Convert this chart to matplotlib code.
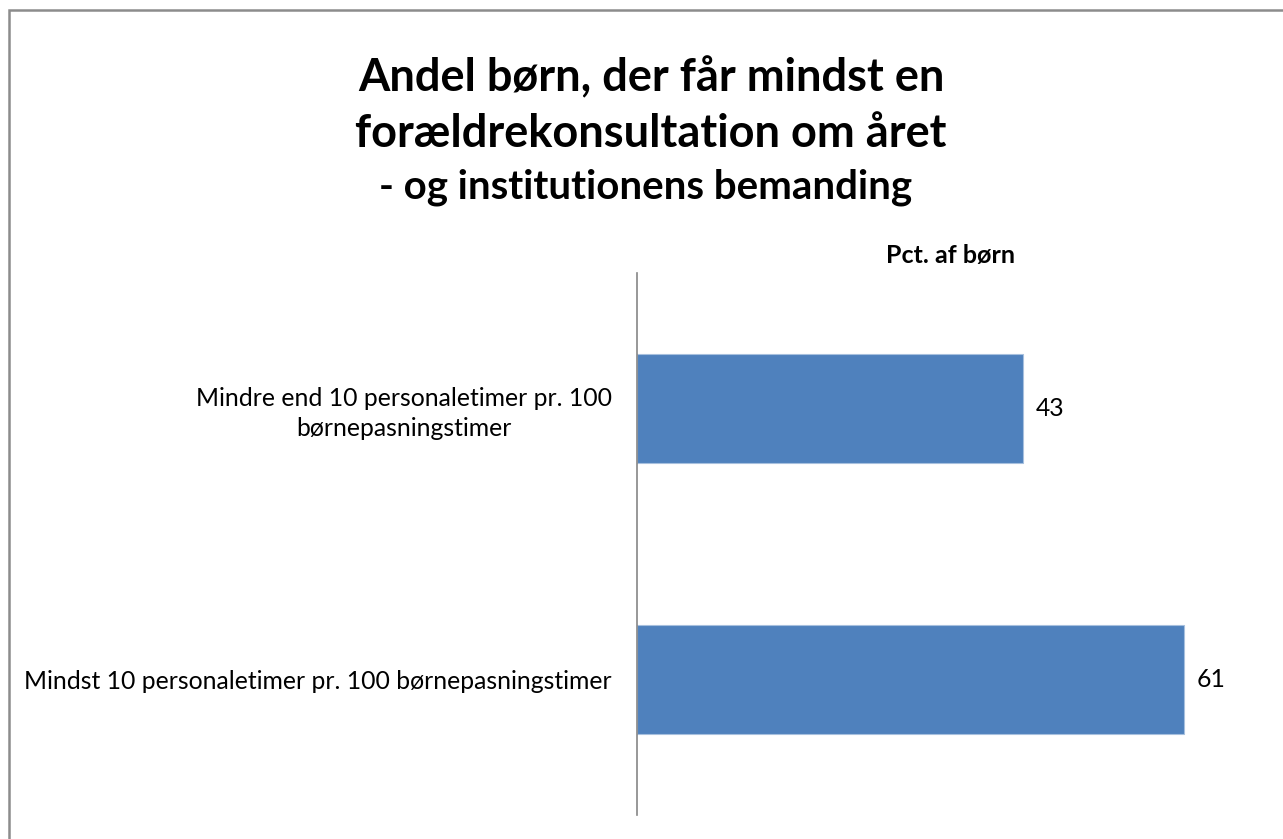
import matplotlib.pyplot as plt
from matplotlib.patches import Rectangle

categories = ["Mindre end 10 personaletimer pr. 100\nbørnepasningstimer",
              "Mindst 10 personaletimer pr. 100 børnepasningstimer"]
values = [43, 61]
title_lines = ["Andel børn, der får mindst en", "forældrekonsultation om året"]
title_sub = "- og institutionens bemanding"
axis_title = "Pct. af børn"

plt.rcParams['font.family'] = ['Lato', 'DejaVu Sans']

W, H = 1283, 839
fig = plt.figure(figsize=(W / 100, H / 100), dpi=100)

# outer chart frame (runs past the right and bottom edges)
fig.patches.append(Rectangle((8.5 / W, -0.1), 1.2, 1 - 10.5 / H + 0.1,
                             transform=fig.transFigure, fill=False,
                             edgecolor="#8c8c8c", linewidth=1.8))

ax = fig.add_axes([637 / W, 1 - 815 / H, (1265 - 637) / W, (815 - 273) / H])
y = list(range(len(categories)))
ax.barh(y, values, height=0.405, color="#4f81bd", edgecolor="#a7c0de", linewidth=0.8)
ax.set_ylim(1.5, -0.5)
ax.set_xlim(0, 70)
ax.set_yticks(y)
ax.set_yticklabels(categories, fontsize=17.8, multialignment="center", linespacing=1.35)
ax.tick_params(axis="y", length=0, pad=18)
ax.set_xticks([])
for s in ["top", "right", "bottom"]:
    ax.spines[s].set_visible(False)
ax.spines["left"].set_color("#868686")
ax.spines["left"].set_linewidth(1.2)

for yi, v in zip(y, values):
    ax.text(v + 1.4, yi, str(v), va="center", ha="left", fontsize=17.8)

fig.text(951 / W, 1 - 256 / H, axis_title, ha="center", va="center",
         fontsize=18, fontweight="bold")
for line, base in zip(title_lines, [91, 147]):
    fig.text(651 / W, 1 - base / H, line, ha="center", va="baseline",
             fontsize=32.5, fontweight="bold")
fig.text(646 / W, 1 - 198 / H, title_sub, ha="center", va="baseline",
         fontsize=29, fontweight="bold")

fig.savefig("out.png", dpi=100)
